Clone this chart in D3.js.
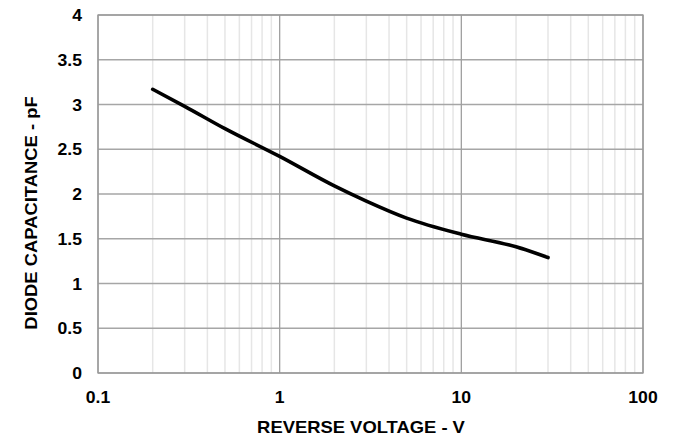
<!DOCTYPE html>
<html>
<head>
<meta charset="utf-8">
<script src="https://cdn.jsdelivr.net/npm/d3@7"></script>
<style>
  body { margin: 0; background: #fff; }
  text { font-family: "Liberation Sans", Arial, sans-serif; font-weight: bold; fill: #000; }
</style>
</head>
<body>
<div id="chart"></div>
<script>
// reverse voltage (V) and diode capacitance (pF)
var voltage = [0.2, 0.3, 0.5, 1, 2, 3, 5, 10, 20, 30];
var capacitance = [3.17, 2.98, 2.73, 2.42, 2.09, 1.92, 1.73, 1.55, 1.41, 1.29];
var xTicks = [0.1, 1, 10, 100];
var xTickLabels = ['0.1', '1', '10', '100'];
var yTicks = [0, 0.5, 1, 1.5, 2, 2.5, 3, 3.5, 4];
var yTickLabels = ['0', '0.5', '1', '1.5', '2', '2.5', '3', '3.5', '4'];

var width = 676, height = 437;
var margin = {left: 98, right: 33, top: 15, bottom: 64};
var w = width - margin.left - margin.right;
var h = height - margin.top - margin.bottom;

var svg = d3.select('#chart').append('svg').attr('width', width).attr('height', height);
var g = svg.append('g').attr('transform', 'translate(' + margin.left + ',' + margin.top + ')');

var xscale = d3.scaleLog().domain([0.1, 100]).range([0, w]);
var yscale = d3.scaleLinear().domain([0, 4]).range([h, 0]);

// minor vertical grid (2..9 in every decade)
var minor = [];
[0.1, 1, 10].forEach(function (d) {
  for (var k = 2; k <= 9; k++) minor.push(d * k);
});
g.selectAll('.minor').data(minor).enter().append('line')
  .attr('x1', d => xscale(d)).attr('x2', d => xscale(d))
  .attr('y1', 0).attr('y2', h)
  .attr('stroke', '#e6e6e6').attr('stroke-width', 1.5);

// horizontal grid
g.selectAll('.hgrid').data(yTicks).enter().append('line')
  .attr('x1', 0).attr('x2', w)
  .attr('y1', d => yscale(d)).attr('y2', d => yscale(d))
  .attr('stroke', '#a6a6a6').attr('stroke-width', 1.3);

// major vertical grid
g.selectAll('.major').data(xTicks).enter().append('line')
  .attr('x1', d => xscale(d)).attr('x2', d => xscale(d))
  .attr('y1', 0).attr('y2', h)
  .attr('stroke', '#a0a0a0').attr('stroke-width', 1.3);

g.append('rect').attr('width', w).attr('height', h)
  .attr('fill', 'none').attr('stroke', '#999').attr('stroke-width', 1.3);

// curve
var line = d3.line()
  .x((d, i) => xscale(voltage[i]))
  .y(d => yscale(d))
  .curve(d3.curveMonotoneX);
g.append('path').datum(capacitance)
  .attr('d', line)
  .attr('fill', 'none').attr('stroke', '#000')
  .attr('stroke-width', 3.6).attr('stroke-linecap', 'round');

// tick labels (text is a bit wider than plain Arial in the original)
g.selectAll('.xlab').data(xTicks).enter().append('text')
  .attr('transform', d => 'translate(' + xscale(d) + ',' + (h + 30) + ') scale(1.1,1)')
  .attr('text-anchor', 'middle').style('font-size', '16px')
  .text((d, i) => xTickLabels[i]);

g.selectAll('.ylab').data(yTicks).enter().append('text')
  .attr('transform', d => 'translate(-16,' + (yscale(d) + 6) + ') scale(1.1,1)')
  .attr('text-anchor', 'end').style('font-size', '16px')
  .text((d, i) => yTickLabels[i]);

// axis titles
svg.append('text')
  .attr('transform', 'translate(361,433) scale(1.15,1)')
  .attr('text-anchor', 'middle').style('font-size', '16px')
  .text('REVERSE VOLTAGE - V');

svg.append('text')
  .attr('transform', 'translate(37,213) rotate(-90) scale(1.15,1)')
  .attr('text-anchor', 'middle').style('font-size', '16px')
  .text('DIODE CAPACITANCE - pF');
</script>
</body>
</html>
